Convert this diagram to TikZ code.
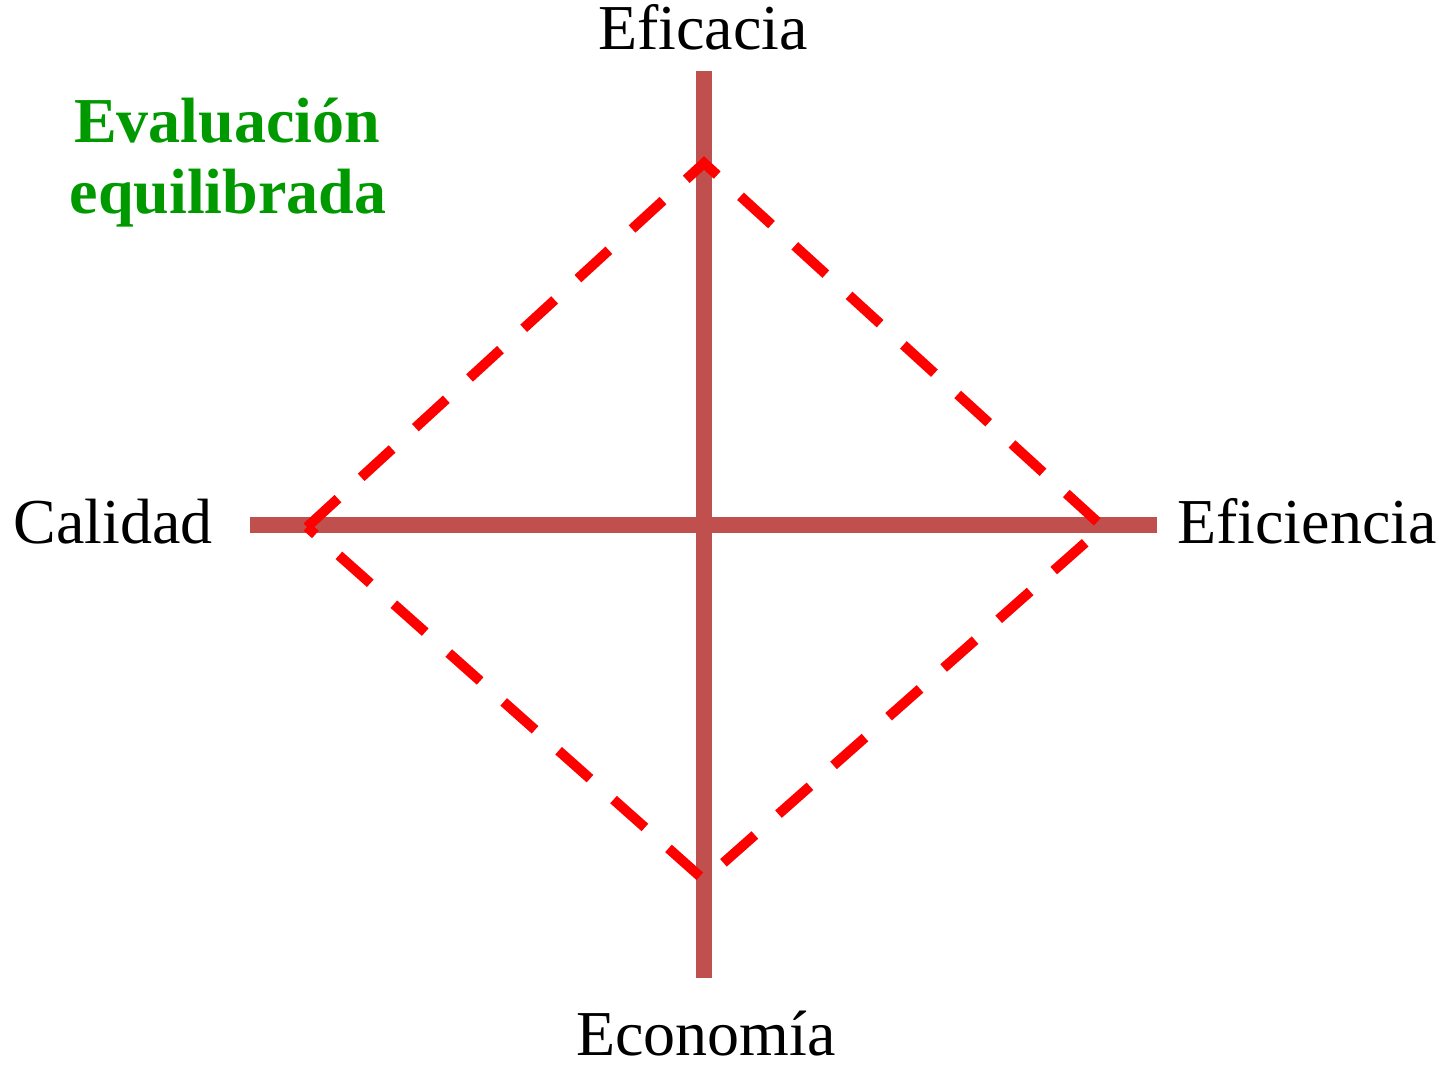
\documentclass[tikz,border=0pt]{standalone}
\usepackage{fontspec}
\setmainfont{Liberation Serif}
\definecolor{axiscol}{HTML}{C0504D}
\definecolor{evgreen}{RGB}{0,153,0}
\begin{document}
\begin{tikzpicture}[x=1pt,y=-1pt,
  axisline/.style={draw=axiscol,line width=16pt},
  diamondline/.style={draw=red,line width=10pt,dash pattern=on 42pt off 31.5pt,line join=miter},
  lbl/.style={inner sep=0pt,font=\fontsize{64}{74}\selectfont},
  evlbl/.style={inner sep=0pt,text=evgreen,font=\fontsize{64}{71}\selectfont\bfseries}]
\useasboundingbox (0,0) rectangle (1447,1065);
% axes
\coordinate (vtop) at (704,71);
\coordinate (vbot) at (704,978);
\coordinate (hleft) at (250,525);
\coordinate (hright) at (1157,525);
\draw[axisline] (vtop) -- (vbot);
\draw[axisline] (hleft) -- (hright);
% diamond
\coordinate (dL) at (307,527);
\coordinate (dT) at (704,163);
\coordinate (dR) at (1103,527);
\coordinate (dB) at (704,880);
\draw[diamondline] (dL) -- (dT) -- (dR) -- (dB) -- cycle;
% labels
\node[lbl,anchor=base] (eficacia) at (703,50) {Eficacia};
\node[lbl,anchor=base east] (calidad) at (213,543) {Calidad};
\node[lbl,anchor=base west] (eficiencia) at (1177,543) {Eficiencia};
\node[lbl,anchor=base] (economia) at (706,1055) {Economía};
\node[evlbl,anchor=base] (ev1) at (227,142) {Evaluación};
\node[evlbl,anchor=base] (ev2) at (228,213) {equilibrada};
\end{tikzpicture}
\end{document}
